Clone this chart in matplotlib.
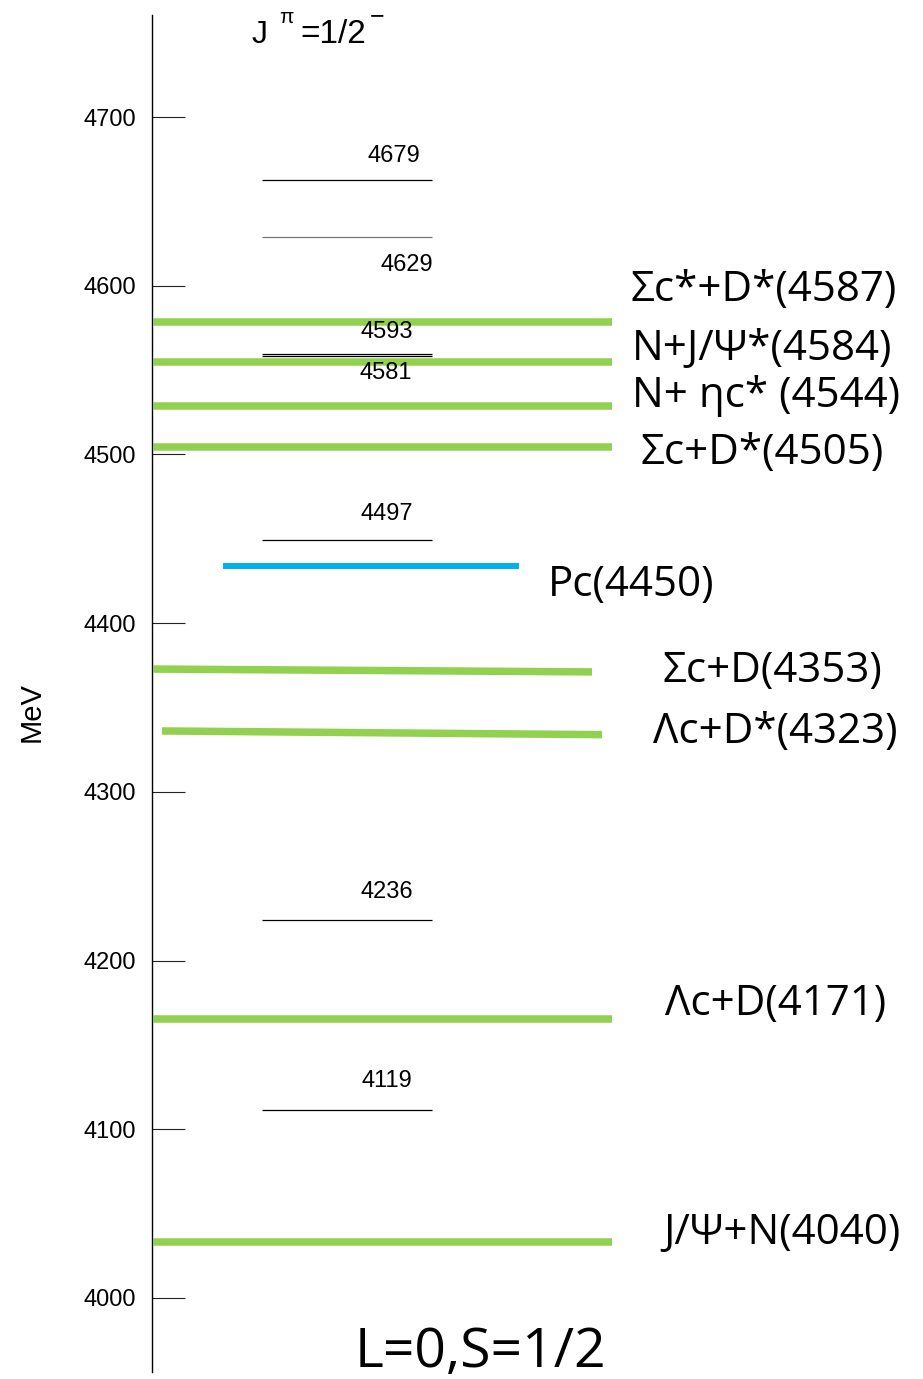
import matplotlib
matplotlib.use('Agg')
import matplotlib.pyplot as plt
import statistics

W, H, DPI = 923, 1379, 100

# ---------------- data ----------------
yticks = [4000, 4100, 4200, 4300, 4400, 4500, 4600, 4700]
level_values = [4662.7, 4629.1, 4559.4, 4558.2, 4449.1, 4224.1, 4111.4]
level_labels = ['4679', '4629', '4593', '4581', '4497', '4236', '4119']
threshold_start = [4578.5, 4554.8, 4528.5, 4504.2, 4372.8, 4336.1, 4165.2, 4033.4]
threshold_end = [4578.5, 4554.8, 4528.5, 4504.2, 4371.1, 4333.9, 4165.2, 4033.4]
threshold_labels = ['Σc*+D*(4587)', 'N+J/Ψ*(4584)', 'N+ ηc* (4544)', 'Σc+D*(4505)',
                    'Σc+D(4353)', 'Λc+D*(4323)', 'Λc+D(4171)', 'J/Ψ+N(4040)']
pc_value = 4434.1
pc_label = 'Pc(4450)'

# ---------------- layout (pixels) ----------------
SPINE_X = 152
AX_TOP, AX_BOT = 15, 1372
YLIM = (3956.1, 4760.5)
level_x = (262, 432)
thr_x = [(153, 612), (153, 612), (153, 612), (153, 612), (153, 592), (162, 602), (153, 612), (153, 612)]
pc_x = (223, 519)
level_lbl_pos = [(394, 156), (407, 265), (387, 332), (386, 373), (387, 514), (387, 892), (387, 1081)]
thr_lbl_pos = [(631, 290, 266), (632, 349, 268), (632, 396, 266), (640, 453, 239),
               (663, 671, 217), (653, 732, 247), (665, 1004, 223), (663, 1233, 249)]
pc_lbl_pos = (548, 585, 165)

GREEN = '#92D050'
BLUE = '#00B0F0'
BIG_FONT = ['Open Sans', 'DejaVu Sans']
SMALL_FONT = ['Liberation Sans', 'DejaVu Sans']

fig = plt.figure(figsize=(W / DPI, H / DPI), dpi=DPI)
ax = fig.add_axes([SPINE_X / W, (H - AX_BOT) / H, 1 - SPINE_X / W, (AX_BOT - AX_TOP) / H])
ax.set_xlim(0, W - SPINE_X)
ax.set_ylim(*YLIM)
for s in ['top', 'right', 'bottom']:
    ax.spines[s].set_visible(False)
ax.spines['left'].set_linewidth(1.0)
ax.set_xticks([])
ax.set_yticks(yticks)
ax.set_yticklabels([str(t) for t in yticks], fontfamily=SMALL_FONT, fontsize=17)
ax.tick_params(axis='y', direction='in', length=33 * 72 / DPI, width=0.8, color='#222222', pad=11.5)


def px(x):
    return x - SPINE_X


def fpos(x, y):
    return x / W, 1 - y / H


# black energy levels
for v in level_values:
    c = '#777777' if v == level_values[1] else 'black'
    ax.plot([px(level_x[0]), px(level_x[1])], [v, v], color=c, lw=0.9, zorder=2, solid_capstyle='butt')

# green thresholds
for (x0, x1), v0, v1 in zip(thr_x, threshold_start, threshold_end):
    ax.plot([px(x0), px(x1)], [v0, v1], color=GREEN, lw=5.4, zorder=3, solid_capstyle='butt')

# blue Pc
ax.plot([px(pc_x[0]), px(pc_x[1])], [pc_value, pc_value], color=BLUE, lw=4.3, zorder=3, solid_capstyle='butt')

renderer = fig.canvas.get_renderer()


def width_of(t):
    return t.get_window_extent(renderer=renderer).width


# small level labels
for lab, (cx, cy) in zip(level_labels, level_lbl_pos):
    fig.text(*fpos(cx, cy), lab, fontfamily=SMALL_FONT, fontsize=17, ha='center', va='center', zorder=1)

# big labels: fit a common size
probe_size = 30
scales = []
for lab, (lx, ly, tw) in zip(threshold_labels + [pc_label], thr_lbl_pos + [pc_lbl_pos]):
    t = fig.text(0, 0, lab, fontfamily=BIG_FONT, fontsize=probe_size)
    scales.append(tw / width_of(t))
    t.remove()
big_size = probe_size * statistics.median(scales)
for lab, (lx, ly, tw) in zip(threshold_labels + [pc_label], thr_lbl_pos + [pc_lbl_pos]):
    fig.text(*fpos(lx, ly), lab, fontfamily=BIG_FONT, fontsize=big_size, ha='left', va='center')

# L=0,S=1/2
t = fig.text(0, 0, 'L=0,S=1/2', fontfamily=BIG_FONT, fontsize=probe_size)
ls_size = probe_size * 252 / width_of(t)
t.remove()
fig.text(*fpos(355, 1352), 'L=0,S=1/2', fontfamily=BIG_FONT, fontsize=ls_size, ha='left', va='center')

# J^pi = 1/2^-
fig.text(*fpos(252, 43), 'J', fontfamily=SMALL_FONT, fontsize=23, ha='left', va='baseline')
fig.text(*fpos(279, 23), 'π', fontfamily=SMALL_FONT, fontsize=15, ha='left', va='baseline')
fig.text(*fpos(300, 43), '=1/2', fontfamily=SMALL_FONT, fontsize=24, ha='left', va='baseline')
fig.text(*fpos(370, 16), '−', fontfamily=SMALL_FONT, fontsize=18, ha='left', va='center')

# MeV
fig.text(*fpos(32, 712), 'MeV', fontfamily=SMALL_FONT, fontsize=21, rotation=90, ha='center', va='center')

fig.savefig('out.png', dpi=DPI)
